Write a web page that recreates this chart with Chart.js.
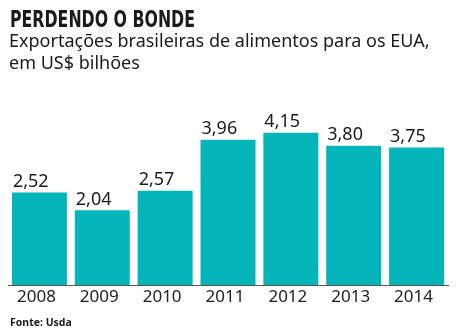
<!DOCTYPE html>
<html lang="pt">
<head>
    <meta charset="UTF-8">
    <title>Perdendo o bonde</title>
    <script src="https://cdn.jsdelivr.net/npm/chart.js"></script>
    <style>
        html, body { margin: 0; padding: 0; background: #fff; }
        #wrap { width: 456px; height: 336px; }
    </style>
</head>
<body>
    <div id="wrap"><canvas id="myChart" width="456" height="336"></canvas></div>

    <script>
        // dados do grafico
        const years = ['2008', '2009', '2010', '2011', '2012', '2013', '2014'];
        const exports = [2.52, 2.04, 2.57, 3.96, 4.15, 3.80, 3.75];
        const valueLabels = ['2,52', '2,04', '2,57', '3,96', '4,15', '3,80', '3,75'];

        const titleText = 'PERDENDO O BONDE';
        const subtitleLines = ['Exportações brasileiras de alimentos para os EUA,', 'em US$ bilhões'];
        const sourceText = 'Fonte: Usda';

        const teal = '#05b5b9';
        const ink = '#1a1a1a';
        const sans = "'Noto Sans', 'Open Sans', sans-serif";

        // cabecalho: titulo condensado + subtitulo em duas linhas
        const headerPlugin = {
            id: 'header',
            afterDraw(chart) {
                const ctx = chart.ctx;
                ctx.save();
                ctx.fillStyle = ink;
                ctx.textBaseline = 'alphabetic';
                ctx.font = "bold 23px 'DejaVu Sans Condensed', 'DejaVu Sans', sans-serif";
                const w = ctx.measureText(titleText).width;
                ctx.save();
                ctx.translate(10, 27);
                ctx.scale(185 / w, 1);   // letra estreita como no original
                ctx.fillText(titleText, 0, 0);
                ctx.restore();

                ctx.font = '18px ' + sans;
                ctx.fillText(subtitleLines[0], 9, 47);
                ctx.fillText(subtitleLines[1], 9, 68.5);

                ctx.font = 'bold 10.5px ' + sans;
                ctx.fillText(sourceText, 10, 326);
                ctx.restore();
            }
        };

        // valor em cima de cada barra, encostado na borda esquerda
        const valueLabelPlugin = {
            id: 'valueLabels',
            afterDatasetsDraw(chart) {
                const ctx = chart.ctx;
                const meta = chart.getDatasetMeta(0);
                ctx.save();
                ctx.font = '18px ' + sans;
                ctx.fillStyle = ink;
                ctx.textAlign = 'left';
                ctx.textBaseline = 'alphabetic';
                meta.data.forEach((bar, i) => {
                    ctx.fillText(valueLabels[i], bar.x - bar.width / 2 + 1, bar.y - 5.5);
                });
                ctx.restore();
            }
        };

        const ctx = document.getElementById('myChart').getContext('2d');
        new Chart(ctx, {
            type: 'bar',
            data: {
                labels: years,
                datasets: [{
                    data: exports,
                    backgroundColor: teal,
                    borderWidth: 0,
                    barPercentage: 0.875,
                    categoryPercentage: 1
                }]
            },
            options: {
                responsive: false,
                animation: false,
                layout: { padding: { left: 8, right: 8, top: 76, bottom: 26 } },
                plugins: {
                    legend: { display: false },
                    tooltip: { enabled: false },
                    title: { display: false }
                },
                scales: {
                    x: {
                        grid: { display: false, drawOnChartArea: false, drawTicks: false },
                        border: { display: true, color: '#555', width: 1 },
                        ticks: {
                            color: '#222',
                            font: { family: sans, size: 17, lineHeight: 1 },
                            padding: 4,
                            labelOffset: -3
                        }
                    },
                    y: {
                        display: false,
                        min: 0,
                        max: 5.7
                    }
                }
            },
            plugins: [valueLabelPlugin, headerPlugin]
        });
    </script>
</body>
</html>
